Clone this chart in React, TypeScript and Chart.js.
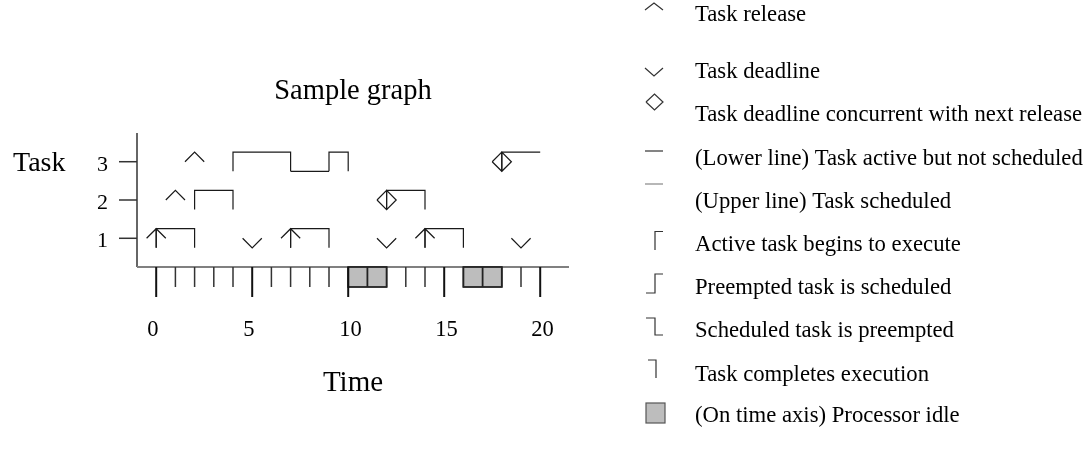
import React, { useEffect, useRef } from 'react';
import { Chart, registerables } from 'chart.js';

Chart.register(...registerables);

// ---- data ----
const TASKS = [1, 2, 3];
const TIME_MAJOR = [0, 5, 10, 15, 20];
const TIME_MINOR = [1, 2, 3, 4, 6, 7, 8, 9, 11, 12, 13, 14, 16, 17, 18, 19];

// plain releases (^)
const RELEASE_TASK = [2, 3];
const RELEASE_TIME = [1, 2];
// releases where execution starts at once (arrow)
const ARROW_TASK = [1, 1, 1];
const ARROW_TIME = [0, 7, 14];
// deadlines (v)
const DEADLINE_TASK = [1, 1, 1];
const DEADLINE_TIME = [5, 12, 19];
// deadline concurrent with next release (diamond)
const DIAMOND_TASK = [2, 3];
const DIAMOND_TIME = [12, 18];
// scheduled (upper line) intervals
const RUN_TASK = [1, 1, 1, 2, 2, 3, 3, 3];
const RUN_START = [0, 7, 14, 2, 12, 4, 9, 18];
const RUN_END = [2, 9, 16, 4, 14, 7, 10, 20];
const RUN_CLOSED = [true, true, true, true, true, true, true, false];
// active but not scheduled (lower line)
const WAIT_TASK = [3];
const WAIT_START = [7];
const WAIT_END = [9];
// processor idle intervals on the time axis
const IDLE_START = [10, 16];
const IDLE_END = [12, 18];

const LEGEND_LABELS = [
  'Task release',
  'Task deadline',
  'Task deadline concurrent with next release',
  '(Lower line) Task active but not scheduled',
  '(Upper line) Task scheduled',
  'Active task begins to execute',
  'Preempted task is scheduled',
  'Scheduled task is preempted',
  'Task completes execution',
  '(On time axis) Processor idle',
];

const H = 0.25; // half height of a task band (data units)
const W = 0.5; // half width of a marker (data units)
const SERIF = '"Liberation Serif", "Times New Roman", serif';
const INK = '#1a1a1a';

type P = { x: number; y: number | null };

function gap(x: number): P {
  return { x, y: null };
}

function buildRuns(): P[] {
  const pts: P[] = [];
  RUN_TASK.forEach((t, i) => {
    const s = RUN_START[i];
    const e = RUN_END[i];
    pts.push({ x: s, y: t - H }, { x: s, y: t + H }, { x: e, y: t + H });
    if (RUN_CLOSED[i]) pts.push({ x: e, y: t - H });
    pts.push(gap(e));
  });
  return pts;
}

function buildWaits(): P[] {
  const pts: P[] = [];
  WAIT_TASK.forEach((t, i) => {
    pts.push({ x: WAIT_START[i], y: t - H }, { x: WAIT_END[i], y: t - H }, gap(WAIT_END[i]));
  });
  return pts;
}

function buildCarets(tasks: number[], times: number[], withStem: boolean): P[] {
  const pts: P[] = [];
  tasks.forEach((t, i) => {
    const x = times[i];
    pts.push({ x: x - W, y: t }, { x, y: t + H }, { x: x + W, y: t }, gap(x));
    if (withStem) pts.push({ x, y: t - H }, { x, y: t + H }, gap(x));
  });
  return pts;
}

function buildDeadlines(): P[] {
  const pts: P[] = [];
  DEADLINE_TASK.forEach((t, i) => {
    const x = DEADLINE_TIME[i];
    pts.push({ x: x - W, y: t }, { x, y: t - H }, { x: x + W, y: t }, gap(x));
  });
  return pts;
}

function buildDiamonds(): P[] {
  const pts: P[] = [];
  DIAMOND_TASK.forEach((t, i) => {
    const x = DIAMOND_TIME[i];
    pts.push(
      { x: x - W, y: t },
      { x, y: t + H },
      { x: x + W, y: t },
      { x, y: t - H },
      { x: x - W, y: t },
      gap(x),
      { x, y: t - H },
      { x, y: t + H },
      gap(x)
    );
  });
  return pts;
}

const framePlugin = {
  id: 'schedFrame',
  afterDraw(chart: any) {
    const ctx: CanvasRenderingContext2D = chart.ctx;
    const xs = chart.scales.x;
    const ys = chart.scales.y;
    const area = chart.chartArea;
    const axisY = area.bottom;
    ctx.save();

    // y axis
    ctx.strokeStyle = '#333';
    ctx.lineWidth = 1.5;
    ctx.beginPath();
    ctx.moveTo(area.left, area.top);
    ctx.lineTo(area.left, area.bottom);
    ctx.stroke();

    // task ticks and labels
    ctx.fillStyle = '#000';
    ctx.font = `22px ${SERIF}`;
    ctx.textAlign = 'right';
    ctx.textBaseline = 'alphabetic';
    TASKS.forEach((t) => {
      const py = ys.getPixelForValue(t);
      ctx.beginPath();
      ctx.moveTo(area.left - 18, py);
      ctx.lineTo(area.left, py);
      ctx.stroke();
      ctx.fillText(String(t), area.left - 29, py + 9);
    });

    // time axis line
    ctx.strokeStyle = '#808080';
    ctx.lineWidth = 2;
    ctx.beginPath();
    ctx.moveTo(area.left, axisY);
    ctx.lineTo(area.right, axisY);
    ctx.stroke();

    // minor ticks
    ctx.strokeStyle = '#333';
    ctx.lineWidth = 1.5;
    TIME_MINOR.forEach((v) => {
      const px = xs.getPixelForValue(v);
      ctx.beginPath();
      ctx.moveTo(px, axisY);
      ctx.lineTo(px, axisY + 20);
      ctx.stroke();
    });

    // idle boxes
    IDLE_START.forEach((s, i) => {
      const x0 = xs.getPixelForValue(s);
      const x1 = xs.getPixelForValue(IDLE_END[i]);
      ctx.fillStyle = '#bdbdbd';
      ctx.fillRect(x0, axisY, x1 - x0, 20);
      ctx.strokeStyle = '#222';
      ctx.lineWidth = 1.8;
      ctx.strokeRect(x0, axisY, x1 - x0, 20);
      for (let v = s + 1; v < IDLE_END[i]; v++) {
        const px = xs.getPixelForValue(v);
        ctx.beginPath();
        ctx.moveTo(px, axisY);
        ctx.lineTo(px, axisY + 20);
        ctx.stroke();
      }
    });

    // major ticks + labels
    ctx.strokeStyle = '#111';
    ctx.lineWidth = 2;
    ctx.fillStyle = '#000';
    ctx.font = `22.5px ${SERIF}`;
    ctx.textAlign = 'left';
    TIME_MAJOR.forEach((v) => {
      const px = xs.getPixelForValue(v);
      ctx.beginPath();
      ctx.moveTo(px, axisY);
      ctx.lineTo(px, axisY + 30);
      ctx.stroke();
      ctx.fillText(String(v), px - 9, axisY + 69);
    });

    // titles
    const midX = (area.left + area.right) / 2;
    ctx.font = `28.5px ${SERIF}`;
    ctx.textAlign = 'center';
    ctx.fillText('Sample graph', midX, 99);
    ctx.font = `29px ${SERIF}`;
    ctx.fillText('Time', midX, 391);
    ctx.textAlign = 'left';
    ctx.font = `28px ${SERIF}`;
    ctx.fillText('Task', 13, ys.getPixelForValue(3) + 9);

    // legend
    const baselines = [21, 78, 121, 165, 208, 251, 294, 337, 381, 422];
    ctx.font = `22.7px ${SERIF}`;
    ctx.fillStyle = '#000';
    LEGEND_LABELS.forEach((lab, i) => ctx.fillText(lab, 695, baselines[i]));

    ctx.strokeStyle = '#333';
    ctx.lineWidth = 1.2;
    const line = (pts: number[][]) => {
      ctx.beginPath();
      pts.forEach(([x, y], k) => (k ? ctx.lineTo(x, y) : ctx.moveTo(x, y)));
      ctx.stroke();
    };
    line([[645, 10], [654, 3], [663, 10]]);
    line([[645, 68], [654, 76], [663, 68]]);
    line([[646, 102], [654.5, 94], [663, 102], [654.5, 110], [646, 102]]);
    line([[645, 151], [663, 151]]);
    ctx.strokeStyle = '#888';
    line([[645, 184], [663, 184]]);
    ctx.strokeStyle = '#333';
    line([[655, 250], [655, 231.5], [663, 231.5]]);
    line([[646, 293], [655, 293], [655, 274], [663, 274]]);
    line([[646, 318], [655, 318], [655, 335], [663, 335]]);
    line([[648, 360], [656, 360], [656, 378]]);
    ctx.fillStyle = '#bdbdbd';
    ctx.fillRect(646, 403, 19, 20);
    ctx.strokeStyle = '#555';
    ctx.lineWidth = 1.2;
    ctx.strokeRect(646, 403, 19, 20);

    ctx.restore();
  },
};

export default function App() {
  const ref = useRef<HTMLCanvasElement | null>(null);

  useEffect(() => {
    if (!ref.current) return;
    const ds = (data: P[]) => ({
      data,
      borderColor: INK,
      borderWidth: 1.2,
      pointRadius: 0,
      spanGaps: false,
      tension: 0,
      fill: false,
    });
    const chart = new Chart(ref.current, {
      type: 'line',
      data: {
        datasets: [
          ds(buildRuns()),
          ds(buildWaits()),
          ds(buildCarets(RELEASE_TASK, RELEASE_TIME, false)),
          ds(buildCarets(ARROW_TASK, ARROW_TIME, true)),
          ds(buildDeadlines()),
          ds(buildDiamonds()),
        ] as any,
      },
      options: {
        responsive: false,
        animation: false,
        devicePixelRatio: 1,
        layout: { padding: { left: 137, top: 133, right: 523, bottom: 201 } },
        scales: {
          x: { type: 'linear', min: -1, max: 21.5, display: false },
          y: { type: 'linear', min: 0.25, max: 3.75, display: false },
        },
        plugins: {
          legend: { display: false },
          tooltip: { enabled: false },
          title: { display: false },
        },
        events: [],
      },
      plugins: [framePlugin],
    });
    return () => chart.destroy();
  }, []);

  return (
    <div style={{ position: 'absolute', left: 0, top: 0, width: 1092, height: 468, background: '#fff' }}>
      <canvas ref={ref} width={1092} height={468} style={{ display: 'block' }} />
    </div>
  );
}
